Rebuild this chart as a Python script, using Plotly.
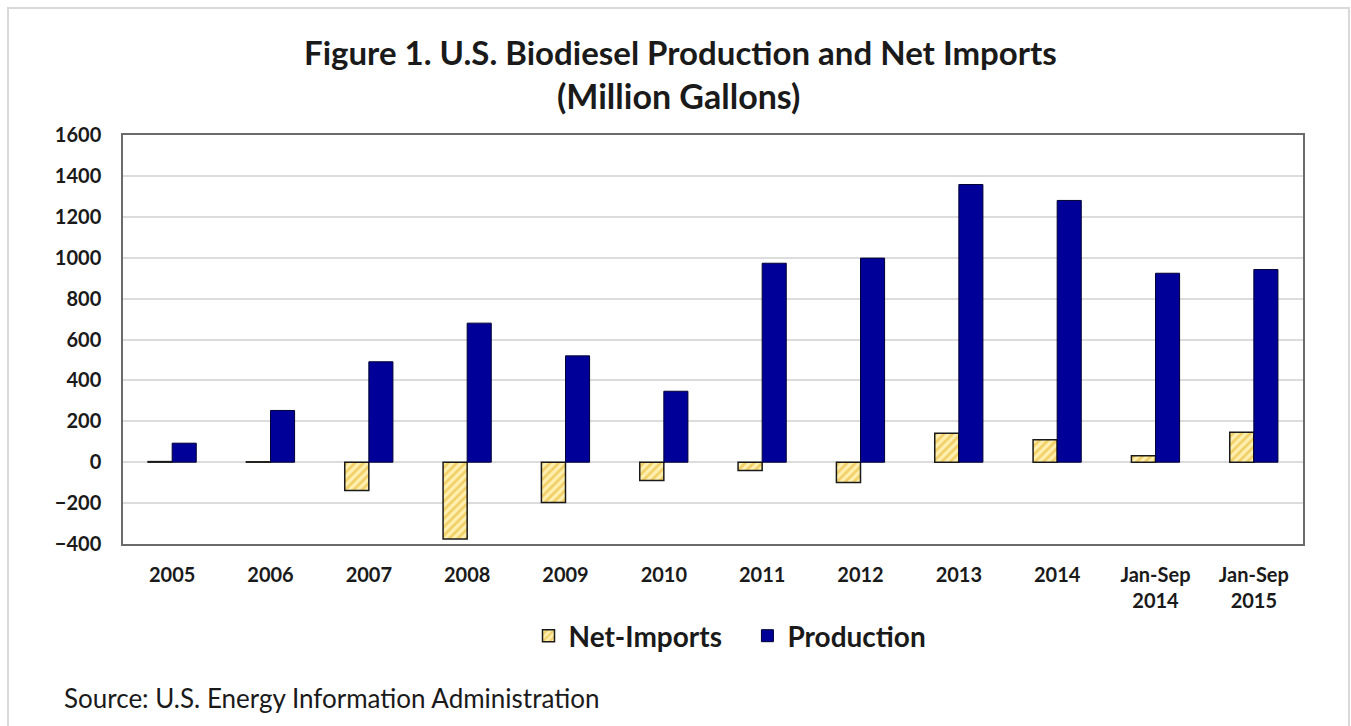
import plotly.graph_objects as go

categories = ["2005", "2006", "2007", "2008", "2009", "2010", "2011", "2012",
              "2013", "2014", "Jan-Sep<br>2014", "Jan-Sep<br>2015"]
net_imports = [3, 2, -138, -375, -197, -90, -40, -99, 142, 110, 31, 147]
production = [93, 253, 491, 680, 520, 347, 973, 998, 1358, 1280, 924, 942]
y_ticks = [-400, -200, 0, 200, 400, 600, 800, 1000, 1200, 1400, 1600]

FONT = "Lato"

fig = go.Figure()
fig.add_trace(go.Bar(
    x=categories, y=net_imports, name="Net-Imports   ",
    marker=dict(color="#ffe48a",
                line=dict(color="#1a1a1a", width=1.5),
                pattern=dict(shape="/", fgcolor="#e3ad1c", bgcolor="#fff0b0",
                             size=6, solidity=0.45)),
))
fig.add_trace(go.Bar(
    x=categories, y=production, name="Production",
    marker=dict(color="#000099", line=dict(color="#000033", width=1)),
))

W, H = 1351, 726
L, R, T, B = 123, 48, 135, 182
PW, PH = W - L - R, H - T - B


def px(x):
    return (x - L) / PW


def py(y):
    return (H - B - y) / PH


fig.update_layout(
    width=W, height=H,
    margin=dict(l=L, r=R, t=T, b=B),
    paper_bgcolor="white", plot_bgcolor="white",
    barmode="group", bargap=0.51, bargroupgap=0,
    font=dict(family=FONT, color="#1a1a1a"),
    showlegend=True,
    legend=dict(orientation="h", x=px(730), xanchor="center", y=py(636), yanchor="middle",
                font=dict(family=FONT, size=28, color="#1a1a1a", weight="bold"),
                itemwidth=30, traceorder="normal"),
    xaxis=dict(showgrid=False, showline=True, mirror=True, linecolor="#6b6b6b", linewidth=1.5,
               tickfont=dict(family=FONT, size=20, weight="bold", color="#1a1a1a"),
               ticks="", ticklabelstandoff=12),
    yaxis=dict(range=[-400, 1600], tickvals=y_ticks, showgrid=True, gridcolor="#dcdcdc",
               gridwidth=2, zeroline=True, zerolinecolor="#dcdcdc", zerolinewidth=2,
               showline=True, mirror=True, linecolor="#6b6b6b", linewidth=1.5,
               tickfont=dict(family=FONT, size=20, weight="bold", color="#1a1a1a"),
               ticks="", ticklabelstandoff=16),
    annotations=[
        dict(text="<b>Figure 1. U.S. Biodiesel Production and Net Imports</b>",
             xref="paper", yref="paper", x=px(680), y=py(52),
             xanchor="center", yanchor="middle", showarrow=False,
             font=dict(family=FONT, size=33, color="#1a1a1a")),
        dict(text="<b>(Million Gallons)</b>",
             xref="paper", yref="paper", x=px(678), y=py(95),
             xanchor="center", yanchor="middle", showarrow=False,
             font=dict(family=FONT, size=34, color="#1a1a1a")),
        dict(text="Source: U.S. Energy Information Administration",
             xref="paper", yref="paper", x=px(62), y=py(698),
             xanchor="left", yanchor="middle", showarrow=False,
             font=dict(family=FONT, size=26, color="#1a1a1a")),
    ],
    shapes=[
        dict(type="rect", xref="paper", yref="paper",
             x0=px(8), x1=px(1349), y0=py(740), y1=py(8),
             line=dict(color="#d9d9d9", width=2), fillcolor="rgba(0,0,0,0)", layer="below"),
    ],
)

fig.write_html("out.html")
